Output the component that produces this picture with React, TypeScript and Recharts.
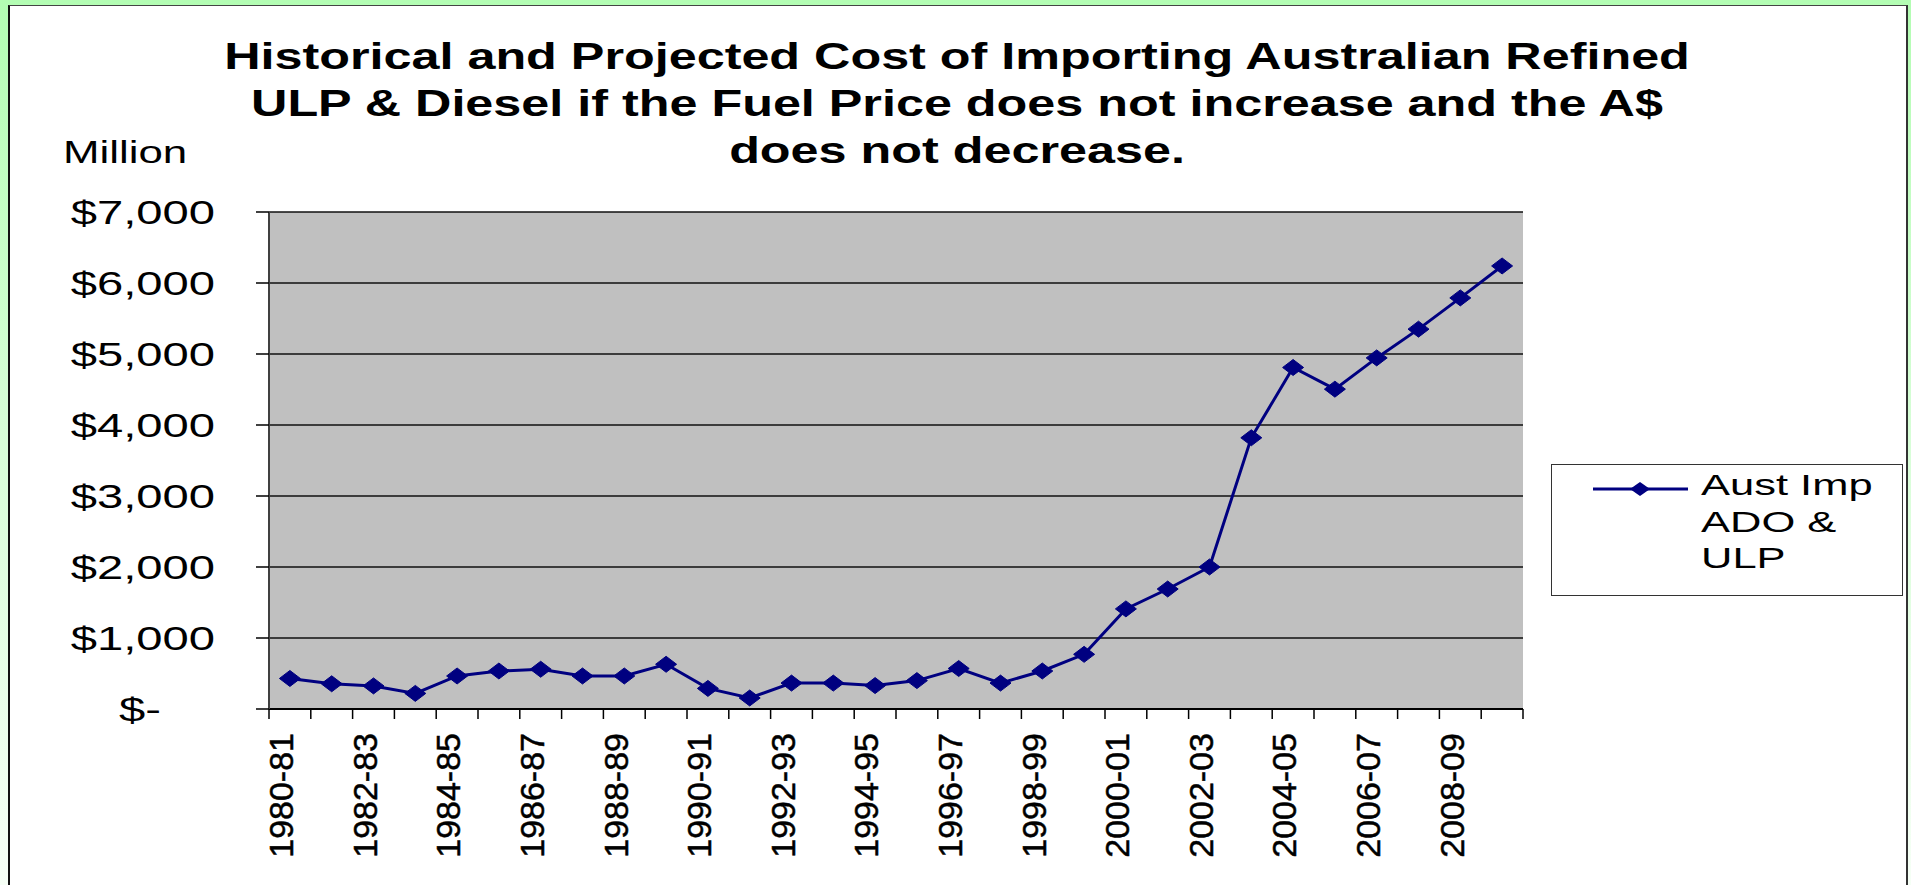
import React from "react";
import {
  LineChart,
  Line,
  CartesianGrid,
  XAxis,
  YAxis,
} from "recharts";

const categories = [
  "1980-81", "1981-82", "1982-83", "1983-84", "1984-85", "1985-86",
  "1986-87", "1987-88", "1988-89", "1989-90", "1990-91", "1991-92",
  "1992-93", "1993-94", "1994-95", "1995-96", "1996-97", "1997-98",
  "1998-99", "1999-00", "2000-01", "2001-02", "2002-03", "2003-04",
  "2004-05", "2005-06", "2006-07", "2007-08", "2008-09", "2009-10",
];

// Aust Imp ADO & ULP, $ million
const importCost = [
  430, 355, 325, 220, 465, 535, 560, 465, 465, 630,
  290, 155, 365, 365, 330, 400, 570, 365, 535, 770,
  1410, 1690, 2000, 3820, 4810, 4505, 4945, 5350, 5790, 6240,
];

const yTicks = [0, 1000, 2000, 3000, 4000, 5000, 6000, 7000];

const seriesName = ["Aust Imp", "ADO &", "ULP"];

const titleLines = [
  "Historical and Projected Cost of Importing Australian Refined",
  "ULP & Diesel if the Fuel Price does not increase and the A$",
  "does not decrease.",
];

const data = categories.map((year, i) => ({ year, cost: importCost[i] }));

const FONT = '"Liberation Sans", Arial, sans-serif';
const NAVY = "#000080";

const money = (v: number) => (v === 0 ? "$-" : "$" + v.toLocaleString("en-US"));

function YTick(props: any) {
  const { x, y, payload } = props;
  const shift = payload.value === 0 ? -54 : 0;
  return (
    <text
      transform={`translate(${x + shift},${y}) scale(1.43,1)`}
      dy="0.36em"
      textAnchor="end"
      fontFamily={FONT}
      fontSize={33}
      fill="#000"
    >
      {money(payload.value)}
    </text>
  );
}

function XTick(props: any) {
  const { x, y, payload, index } = props;
  const half = payload.offset ?? 20.9;
  const last = index === categories.length - 1;
  return (
    <g>
      <line x1={x - half} x2={x - half} y1={y} y2={y + 10} stroke="#000" strokeWidth={1.5} />
      {last && <line x1={x + half} x2={x + half} y1={y} y2={y + 10} stroke="#000" strokeWidth={1.5} />}
      {index % 2 === 0 && (
        <text
          transform={`translate(${x - 9},${y + 24}) rotate(-90)`}
          dy="0.36em"
          textAnchor="end"
          fontFamily={FONT}
          fontSize={34}
          fill="#000"
          stroke="#000"
          strokeWidth={0.5}
        >
          {payload.value}
        </text>
      )}
    </g>
  );
}

function Diamond(props: any) {
  const { cx, cy } = props;
  if (cx == null || cy == null) return null;
  return (
    <polygon
      points={`${cx - 10.5},${cy} ${cx},${cy - 8} ${cx + 10.5},${cy} ${cx},${cy + 8}`}
      fill={NAVY}
      stroke={NAVY}
    />
  );
}

function LegendBox() {
  return (
    <svg width={352} height={132} style={{ display: "block" }}>
      <rect x={0.5} y={0.5} width={351} height={131} fill="#fff" stroke="#333" />
      <line x1={42} x2={137} y1={25} y2={25} stroke={NAVY} strokeWidth={3} />
      <polygon points="79,25 89,18 99,25 89,32" fill={NAVY} />
      {seriesName.map((t, i) => (
        <text
          key={t}
          transform={`translate(150,${31 + i * 36.7}) scale(1.5,1)`}
          fontFamily={FONT}
          fontSize={29}
          fill="#000"
        >
          {t}
        </text>
      ))}
    </svg>
  );
}

export default function App() {
  return (
    <div
      style={{
        position: "fixed",
        left: 0,
        top: 0,
        width: 1911,
        height: 885,
        overflow: "hidden",
        background: "linear-gradient(to bottom, #b3fdb3 0%, #d8fed8 50%, #f6fff6 100%)",
      }}
    >
      <div
        style={{
          position: "absolute",
          left: 8,
          top: 5,
          width: 1896,
          height: 900,
          background: "#fff",
          borderLeft: "2px solid #111",
          borderTop: "1px solid #444",
          borderRight: "2px solid #333",
        }}
      />
      <svg
        width={1911}
        height={200}
        style={{ position: "absolute", left: 0, top: 0 }}
      >
        {titleLines.map((t, i) => (
          <text
            key={i}
            transform={`translate(957,${69 + i * 47}) scale(1.36,1)`}
            textAnchor="middle"
            fontFamily={FONT}
            fontWeight="bold"
            fontSize={37}
            fill="#000"
          >
            {t}
          </text>
        ))}
        <text
          transform="translate(63,163) scale(1.37,1)"
          fontFamily={FONT}
          fontSize={32}
          fill="#000"
        >
          Million
        </text>
      </svg>
      <div style={{ position: "absolute", left: 0, top: 0 }}>
        <LineChart
          width={1911}
          height={885}
          data={data}
          margin={{ top: 212, right: 388, bottom: 0, left: 0 }}
        >
          <CartesianGrid
            vertical={false}
            stroke="#111"
            strokeWidth={1.5}
            fill="#c0c0c0"
            fillOpacity={1}
          />
          <XAxis
            dataKey="year"
            scale="band"
            interval={0}
            height={176}
            tickSize={0}
            tickMargin={0}
            tickLine={false}
            tick={<XTick />}
            axisLine={{ stroke: "#000", strokeWidth: 2 }}
          />
          <XAxis
            xAxisId="top"
            dataKey="year"
            scale="band"
            orientation="top"
            height={0}
            tick={false}
            tickLine={false}
            axisLine={{ stroke: "#808080", strokeWidth: 2 }}
          />
          <YAxis
            width={269}
            domain={[0, 7000]}
            ticks={yTicks}
            interval={0}
            tickSize={13}
            tickMargin={41}
            tickLine={{ stroke: "#000", strokeWidth: 1.5 }}
            tick={<YTick />}
            axisLine={{ stroke: "#404040", strokeWidth: 2 }}
          />
          <YAxis
            yAxisId="right"
            orientation="right"
            width={0}
            domain={[0, 7000]}
            tick={false}
            tickLine={false}
            axisLine={{ stroke: "#808080", strokeWidth: 2 }}
          />
          <Line
            type="linear"
            dataKey="cost"
            name="Aust Imp ADO & ULP"
            stroke={NAVY}
            strokeWidth={3}
            dot={<Diamond />}
            activeDot={false}
            isAnimationActive={false}
          />
        </LineChart>
      </div>
      <div style={{ position: "absolute", left: 1551, top: 464 }}>
        <LegendBox />
      </div>
    </div>
  );
}
